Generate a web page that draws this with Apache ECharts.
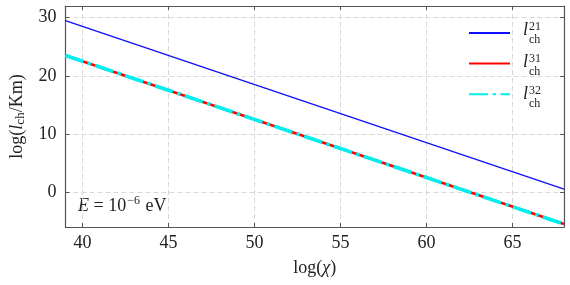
<!DOCTYPE html>
<html><head><meta charset="utf-8">
<script src="https://cdn.jsdelivr.net/npm/echarts@6/dist/echarts.min.js"></script>
<style>html,body{margin:0;padding:0;background:#fff}#c{width:570px;height:285px}</style>
</head><body><div id="c"></div>
<script>
// ---- data ----
const xValues = [39, 68];
const l21 = [29.5, 0.5];
const l31 = [23.5, -5.5];
const l32 = [23.5, -5.5];
const xTicks = [40, 45, 50, 55, 60, 65];
const yTicks = [0, 10, 20, 30];
const seriesNames = ['l_ch^21', 'l_ch^31', 'l_ch^32'];
const supLabels = ['21', '31', '32'];

// ---- layout / style ----
const FONT = 'Liberation Serif';
const axisColor = '#555';
const gridColor = '#d8d8d8';
const legendLeft = 468, legendTop = 26, itemW = 41, itemH = 14, rowStep = 32, labelX = 523;

const chart = echarts.init(document.getElementById('c'));
const pairs = arr => xValues.map((x, i) => [x, arr[i]]);

function mkX(pos, main) {
  return {
    type: 'value', min: 39, max: 68, position: pos,
    axisLine: { show: true, onZero: false, lineStyle: { color: axisColor, width: 1.2 } },
    axisTick: { show: true, inside: true, length: 4, customValues: xTicks, lineStyle: { color: axisColor } },
    axisLabel: main ? { show: true, customValues: xTicks, fontFamily: FONT, fontSize: 18, color: '#222', margin: 7 } : { show: false },
    splitLine: main ? { show: true, lineStyle: { color: gridColor, type: [5, 3], width: 1 } } : { show: false },
    name: main ? '{n|log(}{i|χ}{n|)}' : '',
    nameLocation: 'middle', nameGap: 32,
    nameTextStyle: { rich: { n: { fontFamily: FONT, fontSize: 18, color: '#222' }, i: { fontFamily: FONT, fontStyle: 'italic', fontSize: 18, color: '#222' } } }
  };
}
function mkY(pos, main) {
  return {
    type: 'value', min: -6, max: 32, position: pos,
    axisLine: { show: true, onZero: false, lineStyle: { color: axisColor, width: 1.2 } },
    axisTick: { show: true, inside: true, length: 4, customValues: yTicks, lineStyle: { color: axisColor } },
    axisLabel: main ? { show: true, customValues: yTicks, fontFamily: FONT, fontSize: 18, color: '#222', margin: 9 } : { show: false },
    splitLine: main ? { show: true, lineStyle: { color: gridColor, type: [5, 3], width: 1 } } : { show: false },
    name: main ? '{n|log(}{i|l}{s|ch}{n|/Km)}' : '',
    nameLocation: 'middle', nameGap: 37, nameRotate: 90,
    nameTextStyle: { rich: {
      n: { fontFamily: FONT, fontSize: 18, color: '#222' },
      i: { fontFamily: FONT, fontStyle: 'italic', fontSize: 18, color: '#222' },
      s: { fontFamily: FONT, fontSize: 13, color: '#222', padding: [8, 0, 0, 0] }
    } }
  };
}

const graphics = [];
supLabels.forEach((s, k) => {
  const cy = legendTop + itemH / 2 + k * rowStep;
  graphics.push({ type: 'text', left: labelX, top: cy - 12, style: { text: 'l', font: 'italic 18px ' + FONT, fill: '#222' } });
  graphics.push({ type: 'text', left: labelX + 6, top: cy - 12, style: { text: s, font: '12px ' + FONT, fill: '#222' } });
  graphics.push({ type: 'text', left: labelX + 6, top: cy + 1, style: { text: 'ch', font: '12px ' + FONT, fill: '#222' } });
});
graphics.push({
  type: 'text', left: 78, top: 195,
  style: {
    text: '{i|E} = 10{s|−6} eV',
    font: '18px ' + FONT, fill: '#222',
    rich: {
      i: { fontFamily: FONT, fontStyle: 'italic', fontSize: 18, fill: '#222' },
      s: { fontFamily: FONT, fontSize: 12, fill: '#222', padding: [0, 1, 10, 1] }
    }
  }
});

chart.setOption({
  animation: false,
  backgroundColor: '#fff',
  grid: { left: 60, right: 6, top: 6, bottom: 58 },
  xAxis: [mkX('bottom', true), mkX('top', false)],
  yAxis: [mkY('left', true), mkY('right', false)],
  legend: {
    orient: 'vertical', left: legendLeft, top: legendTop, padding: 0,
    itemWidth: itemW, itemHeight: itemH, itemGap: rowStep - itemH,
    data: seriesNames, formatter: () => '', selectedMode: false,
    itemStyle: { opacity: 0, borderWidth: 0 }
  },
  series: [
    { name: seriesNames[0], type: 'line', symbol: 'none', data: pairs(l21), lineStyle: { color: '#1010ff', width: 1.4 }, itemStyle: { color: '#1010ff' } },
    { name: seriesNames[1], type: 'line', symbol: 'none', data: pairs(l31), lineStyle: { color: '#ff0000', width: 2.6 }, itemStyle: { color: '#ff0000' } },
    { name: seriesNames[2], type: 'line', symbol: 'none', data: pairs(l32), lineStyle: { color: '#00f0f0', width: 3.6, type: [19, 4.5, 3.5, 4.5] }, itemStyle: { color: '#00f0f0' } }
  ],
  graphic: graphics
});
</script></body></html>
